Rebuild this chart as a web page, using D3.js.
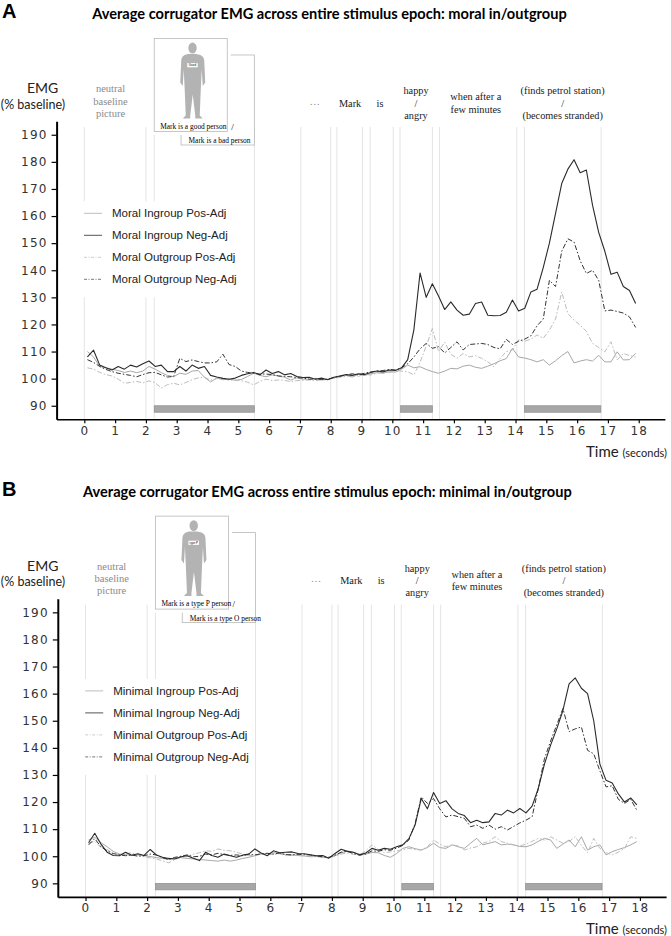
<!DOCTYPE html>
<html>
<head>
<meta charset="utf-8">
<script src="https://cdn.jsdelivr.net/npm/d3@7"></script>
<style>
  body { margin: 0; background: #fff; }
  svg { display: block; }
</style>
</head>
<body>
<svg id="chart" width="671" height="936"></svg>
<script>
// ---- data ----
const xTicks = [0, 1, 2, 3, 4, 5, 6, 7, 8, 9, 10, 11, 12, 13, 14, 15, 16, 17, 18];
const yTicks = [90, 100, 110, 120, 130, 140, 150, 160, 170, 180, 190];

// onsets / offsets of each stimulus part (seconds)
const eventLines = [0, 2.0, 2.27, 5.52, 7.03, 8.0, 8.2, 9.03, 9.28, 10.03, 10.25, 11.3, 11.53, 14.04, 14.29, 16.78];
// grey bars under the analysed windows
const stimBars = [[2.27, 5.52], [10.27, 11.3], [14.29, 16.77]];

const wordLabels = [
  { t: 0.85, lines: ["neutral", "baseline", "picture"], grey: true },
  { t: 7.48, lines: ["…"], grey: true },
  { t: 8.63, lines: ["Mark"] },
  { t: 9.6, lines: ["is"] },
  { t: 10.77, lines: ["happy", "/", "angry"] },
  { t: 12.71, lines: ["when after a", "few minutes"] },
  { t: 15.53, lines: ["(finds petrol station)", "/", "(becomes stranded)"] }
];

// samples every 0.2 s starting at 0.1 s
const times = d3.range(90).map(i => +(0.1 + 0.2 * i).toFixed(1));

// panel A: moral in/outgroup
const moralInPos = [
  110, 108, 104.5, 104, 103.5, 103, 102.3, 102.8, 102.2, 102.8,
  104.5, 103.5, 102.2, 101.2, 100.7, 102, 101.6, 102.8, 103, 100.5,
  98.8, 100.2, 99.6, 99.9, 99.4, 99.7, 100.8, 102, 101.2, 100.7,
  101.4, 101, 100.5, 99.5, 100.3, 99.8, 99.8, 100.1, 99.5, 99.7,
  100.3, 100.8, 101.2, 100.6, 101.6, 101.2, 101.8, 102.2, 102, 102.6,
  102.4, 103.5, 105, 104, 104.4, 103.4, 102.6, 102, 102.8, 103.8,
  103.6, 104.6, 105, 104.2, 103.8, 104.6, 105.5, 106.6, 107.4, 111.2,
  108, 107.6, 107, 106.2, 107, 105, 106.6, 108.5, 110, 105.8,
  106.5, 107, 106.5, 108.6, 106.2, 106.2, 109.9, 106.9, 107, 109.3
];
const moralInNeg = [
  108, 110.5, 105, 104, 103.2, 104.5, 103.5, 105, 104.3, 105.5,
  106.5, 104.5, 105, 102.6, 102.6, 104.5, 102.8, 105, 103.8, 104.5,
  101.2, 100.6, 100.1, 99.8, 100.2, 101.2, 101.8, 102.3, 101.4, 103.2,
  101.9, 102.6, 101.4, 101.9, 100.8, 100.4, 100.5, 99.8, 100.2, 99.6,
  100.5, 101, 101.5, 101.2, 101.8, 101.5, 102.3, 102.8, 102.5, 103.2,
  103, 104, 107, 118, 139, 130, 135, 130.5, 125.5, 128.3,
  125.3, 123.4, 123.8, 127.7, 128.3, 123.4, 123.2, 123.3, 124.5, 129,
  125, 126, 132, 133, 141, 150, 161, 172, 177.3, 180.8,
  176, 177, 164, 154, 147, 138.5, 139.3, 134, 132.5, 127.7
];
const moralOutPos = [
  104, 103.5, 102.3, 101.5, 101, 99.8, 98.3, 98.6, 99, 98.4,
  99.2, 98.5, 96.5, 97.8, 98.3, 97.7, 98.6, 99.6, 100.3, 100.5,
  99.5, 100, 100.2, 99.4, 99.5, 99.2, 98.7, 97.7, 99, 99.8,
  99.3, 99.5, 99.4, 98.9, 99.3, 99.4, 99.5, 99.2, 99.6, 99.8,
  100.1, 100.5, 100.9, 101.4, 100.8, 101.7, 101.3, 102, 102.3, 102.2,
  103, 102.8, 102.5, 101.4, 106, 112, 118.5, 110, 113.5, 109,
  107.5, 109.3, 108, 108.5, 107.5, 106.2, 104.4, 107.5, 110, 110.6,
  114.3, 113.8, 114.6, 116.1, 114.9, 117.9, 122, 132, 124, 121.6,
  119.7, 117.5, 113, 111.5, 109.9, 113.6, 106.9, 109.3, 108.5, 108
];
const moralOutNeg = [
  107, 106, 104.5, 103.4, 102.6, 102, 101.6, 101.2, 100.7, 101.5,
  102.2, 102.3, 101.4, 100.6, 100.8, 107.5, 106.3, 106.9, 106.3, 105.8,
  105.8, 106.2, 109, 105.2, 104.5, 102.8, 102.3, 102, 101.7, 101.7,
  101.5, 101, 100.8, 100.7, 100.4, 100.2, 99.8, 99.9, 99.7, 99.8,
  100.4, 100.9, 101.4, 101.8, 101.4, 102, 102.5, 102.8, 103, 103.4,
  103.2, 104, 105.5, 108, 111, 113, 111.2, 111.8, 109.5, 111.5,
  113.6, 110.6, 112.6, 112.8, 113, 112.6, 111.5, 111, 114.5, 112.6,
  113.8, 114.6, 115.8, 119.5, 122, 136.3, 134, 147, 151.6, 150.4,
  143.5, 138.8, 140, 136.3, 125, 125.3, 124.8, 124.2, 122.8, 118.9
];

// panel B: minimal in/outgroup
const minimalInPos = [
  106, 107, 105, 103.5, 101.8, 100.8, 100.6, 100.3, 100.6, 100.2,
  99.9, 99.5, 99.2, 98.8, 99.3, 99.5, 99.2, 99, 98.8, 98.6,
  98.4, 98.2, 98.6, 98.2, 98.6, 99.2, 99.6, 100.2, 100.8, 101,
  101.3, 101.2, 100.6, 100.5, 100.3, 100.1, 99.8, 99.9, 99.6, 99.4,
  100.2, 101.2, 102, 101.4, 100.8, 100.8, 101.4, 101.3, 100.3, 99.6,
  101, 102.9, 103.5, 102.8, 102.3, 103.2, 104.8, 103.2, 102.9, 104.2,
  103.5, 102.9, 104.8, 106.6, 104.2, 104.8, 105.4, 104.2, 104.5, 104.2,
  103.6, 103.5, 104.2, 105.5, 106.6, 106, 102.9, 104.5, 106, 103.5,
  107.2, 102.3, 103.5, 104.2, 100.5, 101.7, 102.5, 103.2, 104.2, 105.4
];
const minimalInNeg = [
  105, 108.5, 104.5, 101.5, 100.3, 100.2, 101.5, 100.4, 100.9, 100.3,
  102.5, 100.5, 99.6, 99.2, 99, 99.8, 100.2, 99.3, 98.4, 101.5,
  100.3, 99.6, 100.8, 100.2, 99.6, 100.4, 100.8, 102.7, 101.2, 100.2,
  102, 101.3, 101.5, 101.6, 101, 100.9, 100.5, 100.2, 100.3, 99.3,
  101, 102.6, 101.8, 101.5, 100.5, 101.2, 102.9, 102.2, 102.9, 102.6,
  103.5, 104.2, 106.5, 111.5, 121.3, 117.5, 123.5, 119.5, 120.5, 117.5,
  115.8, 115, 112.4, 113.3, 112.4, 112.7, 115.8, 115.2, 117, 116,
  117.6, 116, 118.5, 125, 134, 141, 147, 153.8, 163.6, 165.8,
  162, 160, 150, 134, 128, 127, 123, 120, 121.5, 119
];
const minimalOutPos = [
  104.7, 105.5, 103.2, 102.5, 101, 100.6, 100.9, 101.3, 100.5, 99.8,
  99.4, 99, 98.3, 97.6, 98.8, 99.6, 100, 100.8, 101.3, 102,
  101.8, 102.7, 102.2, 102, 101.5, 100.8, 100.2, 100.4, 100.9, 100.8,
  100.6, 100.9, 100.2, 100.4, 100.2, 100.2, 99.9, 100, 99.6, 99.5,
  100, 100.8, 101.2, 100.7, 100.5, 102, 104.2, 102.5, 101.3, 101.6,
  101.9, 102.4, 102.9, 102.5, 102.3, 103.5, 106, 104.5, 103.5, 104.2,
  103.8, 102.3, 103, 103.5, 104.8, 105.5, 107.2, 105.4, 104.8, 104.2,
  103.8, 104.5, 105.5, 106.6, 106, 107.2, 106, 104.8, 105.4, 107.2,
  104, 101.3, 106.6, 102.9, 101.3, 100.5, 101.5, 102.9, 107.2, 106.6
];
const minimalOutNeg = [
  104.2, 106.5, 103.5, 102, 101, 100.5, 100.2, 100.5, 100, 100.2,
  100.8, 100.5, 99.5, 98.8, 99.6, 100, 100.5, 99.8, 100, 100.8,
  100.5, 101.1, 100.6, 100.3, 100.5, 100.2, 100.7, 100.5, 100.9, 101.1,
  100.8, 101.2, 100.6, 100.5, 100.7, 100.6, 100.5, 100.1, 99.8, 99.6,
  100.4, 101.5, 101.8, 101, 100.4, 100.8, 102, 101.8, 102.4, 102.2,
  103, 104, 106, 112, 121.9, 119.5, 121.3, 117.5, 114.5, 115.2,
  114.6, 114, 110.9, 111.5, 110.3, 111.5, 110, 110.9, 109.7, 111,
  112.3, 113.3, 114.6, 125, 136, 142.5, 148.5, 154.5, 146, 147,
  147.7, 139.1, 137.8, 131.5, 125.6, 126, 121, 119.5, 121, 117
];

const legendMoral = ["Moral Ingroup Pos-Adj", "Moral Ingroup Neg-Adj", "Moral Outgroup Pos-Adj", "Moral Outgroup Neg-Adj"];
const legendMinimal = ["Minimal Ingroup Pos-Adj", "Minimal Ingroup Neg-Adj", "Minimal Outgroup Pos-Adj", "Minimal Outgroup Neg-Adj"];

// ---- styles ----
const lineStyles = [
  { stroke: "#a8a8a8", width: 1, dash: null, key: "#bdbdbd" },
  { stroke: "#2a2a2a", width: 1.1, dash: null, key: "#555" },
  { stroke: "#bcbcbc", width: 1, dash: "5,2,1.5,2", key: "#cdcdcd" },
  { stroke: "#333", width: 1, dash: "5,2,1.5,2", key: "#777" }
];
const drawOrder = [0, 2, 3, 1];

const panels = [
  {
    letter: "A", top: 0, dx: 0, titleX: 329.5,
    title: "Average corrugator EMG across entire stimulus epoch: moral in/outgroup",
    series: [moralInPos, moralInNeg, moralOutPos, moralOutNeg],
    legend: legendMoral, badge: "Good",
    captions: ["Mark is a good person", "Mark is a bad person"]
  },
  {
    letter: "B", top: 477.6, dx: 1.2, titleX: 326.2,
    title: "Average corrugator EMG across entire stimulus epoch: minimal in/outgroup",
    series: [minimalInPos, minimalInNeg, minimalOutPos, minimalOutNeg],
    legend: legendMinimal, badge: "type P",
    captions: ["Mark is a type P person", "Mark is a type O person"]
  }
];

const svg = d3.select("#chart");

const x = d3.scaleLinear().domain([-0.9, 18.85]).range([56.6, 664.9]);
const y = d3.scaleLinear().domain([85, 195]).range([419.3, 121.2]);

const line = d3.line()
  .x((d, i) => x(times[i]))
  .y(d => y(d));

const serif = "'Liberation Serif', 'DejaVu Serif', serif";
const calibri = "Lato, 'Open Sans', sans-serif";
const arial = "'Liberation Sans', Arial, sans-serif";

// standing figure for the picture cards (card-local coords)
const figurePath = "M33.5,15.5 L42,15.5 C47,16.5 49.5,17.5 50,22 L51,44 L48.5,47.5 L47.5,31 L46.5,52 " +
  "L45.5,77 L48.5,80 L41,80 L41,77 L38.5,56 L36,77 L36,80 L28.5,80 L31.5,77 L30.5,52 L29.5,31 " +
  "L28.5,47.5 L26,44 L27,22 C27.5,17.5 30,16.5 33.5,15.5 Z";

function drawPanel(p) {
  const g = svg.append("g").attr("transform", `translate(${p.dx},${p.top})`);

  // panel letter + title
  g.append("text")
    .attr("x", 2 - p.dx).attr("y", 18)
    .style("font", `bold 20px ${arial}`)
    .text(p.letter);

  g.append("text")
    .attr("x", p.titleX).attr("y", 19)
    .attr("text-anchor", "middle")
    .style("font", `bold 14.6px ${calibri}`)
    .text(p.title);

  // vertical event lines
  g.append("g").selectAll("line")
    .data(eventLines)
    .join("line")
    .attr("x1", d => x(d)).attr("x2", d => x(d))
    .attr("y1", 127).attr("y2", y(85))
    .attr("stroke", "#e4e4e4")
    .attr("stroke-width", 1);

  // picture cards
  const c1 = { x: x(2.27), y: 38.5, w: 73, h: 93 };
  const c2 = { x: x(3.14), y: 55, w: x(5.52) - x(3.14), h: 90 };
  g.append("rect")
    .attr("x", c2.x).attr("y", c2.y).attr("width", c2.w).attr("height", c2.h)
    .attr("fill", "#fff").attr("stroke", "#b8b8b8").attr("stroke-width", 0.8);
  g.append("rect")
    .attr("x", c1.x - 3.5).attr("y", c1.y - 3.5).attr("width", c1.w + 7).attr("height", c1.h + 7)
    .attr("fill", "#fff");
  g.append("rect")
    .attr("x", c1.x).attr("y", c1.y).attr("width", c1.w).attr("height", c1.h)
    .attr("fill", "#fff").attr("stroke", "#b8b8b8").attr("stroke-width", 0.8);

  const fig = g.append("g").attr("transform", `translate(${c1.x},${c1.y})`);
  fig.append("ellipse")
    .attr("cx", 38.3).attr("cy", 9.6).attr("rx", 4.2).attr("ry", 5.5)
    .attr("fill", "#b3b3b3");
  fig.append("path").attr("d", figurePath).attr("fill", "#b3b3b3");
  fig.append("rect")
    .attr("x", 33).attr("y", 24.6).attr("width", 10.5).attr("height", 4.2)
    .attr("fill", "#fff");
  fig.append("text")
    .attr("x", 38.25).attr("y", 27.8)
    .attr("text-anchor", "middle")
    .style("font", `bold 2.8px ${arial}`)
    .attr("fill", "#555")
    .text(p.badge);

  g.append("text")
    .attr("x", c1.x + 6).attr("y", 128.8)
    .style("font", `7.4px ${serif}`)
    .text(p.captions[0]);
  g.append("text")
    .attr("x", c1.x + 77).attr("y", 129.5)
    .style("font", `9px ${serif}`)
    .text("/");
  g.append("text")
    .attr("x", c2.x + 7.5).attr("y", 143.2)
    .style("font", `7.4px ${serif}`)
    .text(p.captions[1]);

  // words above the plot
  wordLabels.forEach(w => {
    const n = w.lines.length;
    const cy = w.grey ? 101 : 103;
    const txt = g.append("text")
      .attr("text-anchor", "middle")
      .attr("fill", w.grey ? "#8a8a8a" : "#1a1a1a")
      .style("font", `${w.grey ? 10.5 : 10.3}px ${serif}`);
    w.lines.forEach((l, i) => {
      txt.append("tspan")
        .attr("x", x(w.t))
        .attr("y", cy + (i - (n - 1) / 2) * 12.3 + 3.6)
        .text(l);
    });
  });

  // y label
  g.append("text")
    .attr("x", 42.7 - p.dx).attr("y", 93)
    .attr("text-anchor", "middle")
    .style("font", `14px ${calibri}`)
    .attr("fill", "#222")
    .text("EMG");
  g.append("text")
    .attr("x", 33 - p.dx).attr("y", 108.5)
    .attr("text-anchor", "middle")
    .style("font", `12.5px ${calibri}`)
    .attr("fill", "#222")
    .text("(% baseline)");

  // legend background hides the event lines behind it
  const legendTop = 213.3;
  g.append("rect")
    .attr("x", 79).attr("y", legendTop - 12).attr("width", 165).attr("height", 96)
    .attr("fill", "#fff");

  // stimulus bars
  g.append("g").selectAll("rect")
    .data(stimBars)
    .join("rect")
    .attr("x", d => x(d[0]))
    .attr("width", d => x(d[1]) - x(d[0]))
    .attr("y", y(90))
    .attr("height", y(87.6) - y(90))
    .attr("fill", "#a7a7a7")
    .attr("stroke", "#8e8e8e")
    .attr("stroke-width", 0.7);

  // axes
  const yAxis = g.append("g")
    .attr("transform", `translate(${x(-0.9)},0)`)
    .call(d3.axisLeft(y).tickValues(yTicks).tickSize(5).tickPadding(4).tickSizeOuter(0));
  yAxis.select(".domain").attr("stroke", "#000").attr("stroke-width", 2);
  yAxis.selectAll(".tick line").attr("stroke", "#000").attr("stroke-width", 1.2);
  yAxis.selectAll(".tick text")
    .attr("fill", "#333")
    .style("font", `12px 'DejaVu Sans', sans-serif`)
    .style("letter-spacing", "1.2px");

  const xAxis = g.append("g")
    .attr("transform", `translate(0,${y(85)})`)
    .call(d3.axisBottom(x).tickValues(xTicks).tickSize(4).tickPadding(3).tickSizeOuter(0));
  xAxis.select(".domain").attr("stroke", "#000").attr("stroke-width", 1.6);
  xAxis.selectAll(".tick line").attr("stroke", "#000").attr("stroke-width", 1.2);
  xAxis.selectAll(".tick text")
    .attr("fill", "#333")
    .style("font", `12px 'DejaVu Sans', sans-serif`)
    .style("letter-spacing", "1.2px");

  const timeLabel = g.append("text")
    .attr("x", 667 - p.dx).attr("y", 456.5)
    .attr("text-anchor", "end")
    .attr("fill", "#222")
    .style("font", `15px ${calibri}`);
  timeLabel.append("tspan").text("Time ");
  timeLabel.append("tspan").style("font-size", "11px").text("(seconds)");

  // EMG traces
  g.append("g").selectAll("path")
    .data(drawOrder)
    .join("path")
    .attr("d", k => line(p.series[k]))
    .attr("fill", "none")
    .attr("stroke", k => lineStyles[k].stroke)
    .attr("stroke-width", k => lineStyles[k].width)
    .attr("stroke-dasharray", k => lineStyles[k].dash)
    .attr("stroke-linejoin", "round");

  // legend
  const leg = g.append("g").selectAll("g")
    .data(p.legend)
    .join("g")
    .attr("transform", (d, i) => `translate(0,${legendTop + i * 22})`);
  leg.append("line")
    .attr("x1", 84).attr("x2", 102)
    .attr("stroke", (d, i) => lineStyles[i].key)
    .attr("stroke-width", 1)
    .attr("stroke-dasharray", (d, i) => lineStyles[i].dash ? "3,1.5,1,1.5" : null);
  leg.append("text")
    .attr("x", 112).attr("y", 4)
    .attr("fill", "#222")
    .style("font", `11.5px ${arial}`)
    .text(d => d);
}

panels.forEach(drawPanel);
</script>
</body>
</html>
